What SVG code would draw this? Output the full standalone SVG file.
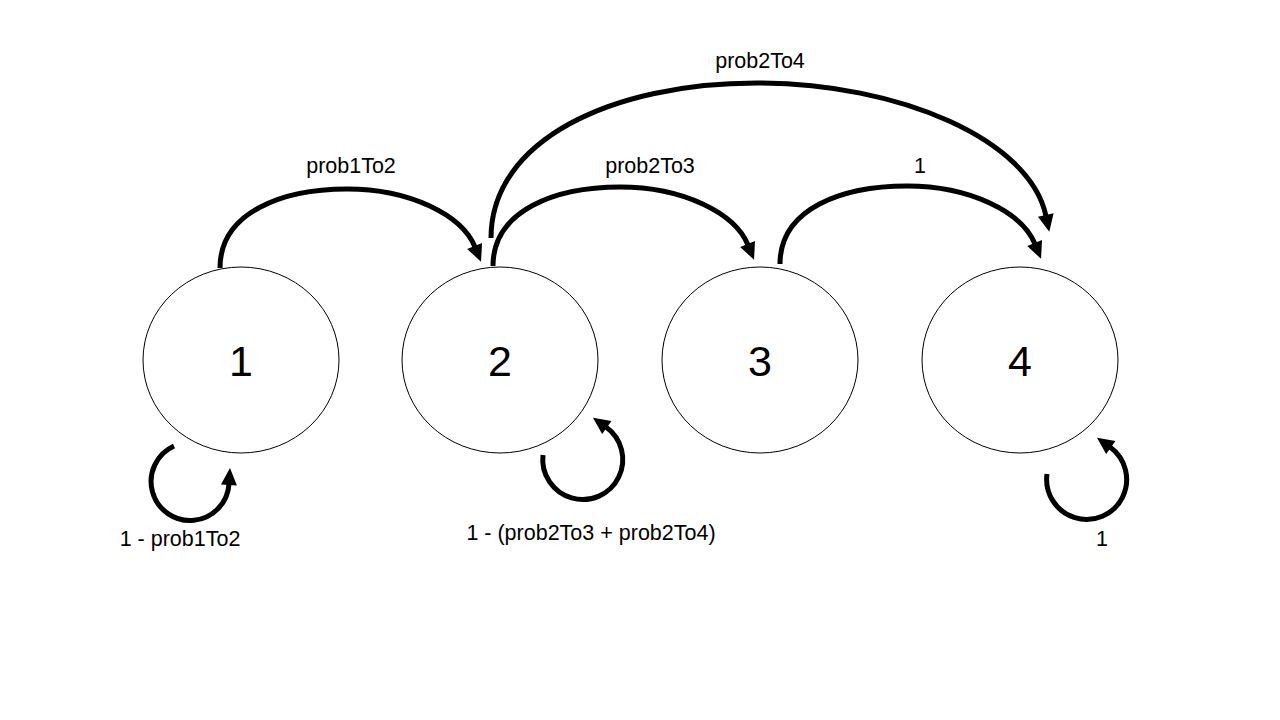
<svg xmlns="http://www.w3.org/2000/svg" width="1280" height="720" viewBox="0 0 1280 720">
  <style>
    .state { fill: #ffffff; stroke: #000000; stroke-width: 1; }
    .num { font-family: "Liberation Sans", Arial, sans-serif; font-size: 43px; fill: #000; text-anchor: middle; }
    .lbl { font-family: "Liberation Sans", Arial, sans-serif; font-size: 21.5px; fill: #000; text-anchor: middle; }
    .edge { fill: none; stroke: #000; stroke-width: 5; marker-end: url(#head); }
  </style>
  <defs>
    <marker id="head" markerUnits="userSpaceOnUse" markerWidth="20" markerHeight="20" refX="0" refY="0" viewBox="0 -10 20 20" orient="auto" overflow="visible">
      <path d="M-1,-8 L16,0 L-1,8 z" fill="#000"/>
    </marker>
  </defs>
  <rect width="1280" height="720" fill="#ffffff"/>

  <g id="state-1">
    <ellipse class="state" cx="241" cy="360" rx="98" ry="93"/>
    <text class="num" x="241" y="376">1</text>
  </g>
  <g id="state-2">
    <ellipse class="state" cx="500" cy="360" rx="98" ry="93"/>
    <text class="num" x="500" y="376">2</text>
  </g>
  <g id="state-3">
    <ellipse class="state" cx="760" cy="360" rx="98" ry="93"/>
    <text class="num" x="760" y="376">3</text>
  </g>
  <g id="state-4">
    <ellipse class="state" cx="1020" cy="360" rx="98" ry="93"/>
    <text class="num" x="1020" y="376">4</text>
  </g>

  <g id="connectors">
    <!-- forward transitions -->
    <path class="edge" d="M220,268 C220,212 283,189 347,189 C410,189 462,215 475,247"/>
    <path class="edge" d="M493,266 C493,210 556,187 620,187 C683,187 735,213 748,245"/>
    <path class="edge" d="M780,264 C780,208 843,186 907,186 C970,186 1022,212 1035,244"/>
    <path class="edge" d="M491,238 C491,140 612,83 757,83 C900,83 1030,140 1046,216"/>
    <!-- self loops -->
    <path class="edge" d="M174,446 A39,39 0 1 0 229,484"/>
    <path class="edge" d="M543,455 A40,40 0 1 0 606,427"/>
    <path class="edge" d="M1047,474 A40,40 0 1 0 1110,447"/>
  </g>

  <g id="labels">
    <text class="lbl" x="351" y="173">prob1To2</text>
    <text class="lbl" x="650" y="173">prob2To3</text>
    <text class="lbl" x="920" y="173">1</text>
    <text class="lbl" x="760" y="68">prob2To4</text>
    <text class="lbl" x="180" y="546">1 - prob1To2</text>
    <text class="lbl" x="591" y="540">1 - (prob2To3 + prob2To4)</text>
    <text class="lbl" x="1102" y="546">1</text>
  </g>
</svg>
